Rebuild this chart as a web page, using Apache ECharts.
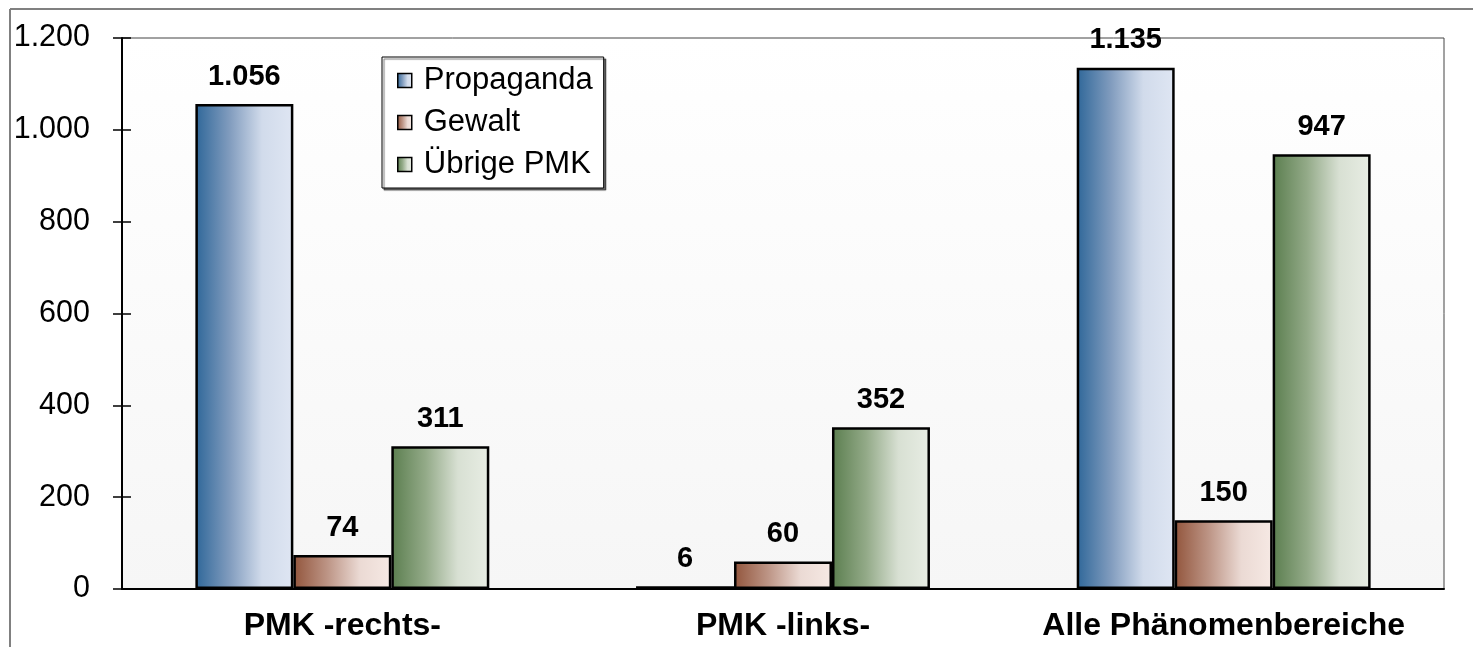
<!DOCTYPE html>
<html>
<head>
<meta charset="utf-8">
<script src="https://cdn.jsdelivr.net/npm/echarts@6/dist/echarts.min.js"></script>
<style>html,body{margin:0;padding:0;background:#fff;}#c{width:1473px;height:647px;}</style>
</head>
<body>
<div id="c"></div>
<script>
var categories = ['PMK -rechts-', 'PMK -links-', 'Alle Phänomenbereiche'];
var seriesNames = ['Propaganda', 'Gewalt', 'Übrige PMK'];
var propaganda = [1056, 6, 1135];
var gewalt = [74, 60, 150];
var uebrige = [311, 352, 947];
var yTicks = [0, 200, 400, 600, 800, 1000, 1200];

function fmt(v) {
  var s = String(Math.round(v));
  return s.replace(/\B(?=(\d{3})+(?!\d))/g, '.');
}
function grad(stops) {
  return {type: 'linear', x: 0, y: 0, x2: 1, y2: 0,
    colorStops: stops.map(function (c, i) { return {offset: [0, 0.35, 0.68, 1][i], color: c}; })};
}
var colors = [
  grad(['#2f6799', '#819cbe', '#d1dbeb', '#dfe6f3']),
  grad(['#92553c', '#bd9586', '#ebdad4', '#f6e9e4']),
  grad(['#5b7e4f', '#93aa88', '#d8e0d3', '#e8ede4'])
];
var font = 'Arial, "Liberation Sans", sans-serif';
var chart = echarts.init(document.getElementById('c'));
var values = [propaganda, gewalt, uebrige];
chart.setOption({
  animation: false,
  grid: {left: 122, right: 29, top: 38, bottom: 58, show: true,
    borderColor: '#444', borderWidth: 1,
    backgroundColor: {type: 'linear', x: 0, y: 0, x2: 0, y2: 1,
      colorStops: [{offset: 0, color: '#ffffff'}, {offset: 1, color: '#f6f6f6'}]}},
  graphic: [
    {type: 'line', shape: {x1: 10, y1: 9, x2: 1473, y2: 9}, style: {stroke: '#808080', lineWidth: 2}},
    {type: 'line', shape: {x1: 10, y1: 9, x2: 10, y2: 647}, style: {stroke: '#808080', lineWidth: 2}}
  ],
  legend: {
    orient: 'vertical', left: 382, top: 57,
    data: seriesNames,
    icon: 'rect',
    itemWidth: 14, itemHeight: 14, itemGap: 11,
    padding: [8, 11, 8, 15],
    backgroundColor: '#fff', borderColor: '#000', borderWidth: 1,
    shadowColor: 'rgba(0,0,0,0.55)', shadowOffsetX: 2, shadowOffsetY: 2, shadowBlur: 1,
    itemStyle: {borderColor: '#000', borderWidth: 1.5},
    textStyle: {fontSize: 31, fontFamily: font, color: '#000', lineHeight: 31, padding: [0, 0, 0, 7]}
  },
  xAxis: {
    type: 'category', data: categories,
    axisLine: {lineStyle: {color: '#000', width: 2}},
    axisTick: {length: 9, lineStyle: {color: '#000', width: 1.5}},
    axisLabel: {interval: 0, hideOverlap: false, fontSize: 32, fontWeight: 'bold', fontFamily: font, color: '#000', margin: 21}
  },
  yAxis: [{
    type: 'value', min: 0, max: 1200, interval: 200,
    axisLine: {show: true, lineStyle: {color: '#000', width: 2}},
    axisTick: {show: true, length: 9, lineStyle: {color: '#000', width: 1.5}},
    splitLine: {show: false},
    axisLabel: {fontSize: 30.5, fontFamily: font, color: '#000', margin: 32,
      formatter: function (v) { return yTicks.indexOf(v) >= 0 ? fmt(v) : ''; }}
  }, {
    type: 'value', min: 0, max: 1200, interval: 200, position: 'left',
    axisLine: {show: false}, axisLabel: {show: false}, splitLine: {show: false},
    axisTick: {show: true, inside: true, length: 9, lineStyle: {color: '#000', width: 1.5}}
  }],
  series: seriesNames.map(function (n, i) {
    return {
      name: n, type: 'bar', data: values[i],
      barGap: '0%', barCategoryGap: '33.3%',
      itemStyle: {color: colors[i], borderColor: '#000', borderWidth: 2.5},
      label: {show: true, position: 'top', distance: 13, fontSize: 29, fontWeight: 'bold',
        fontFamily: font, color: '#000', formatter: function (p) { return fmt(p.value); }}
    };
  })
});
</script>
</body>
</html>
